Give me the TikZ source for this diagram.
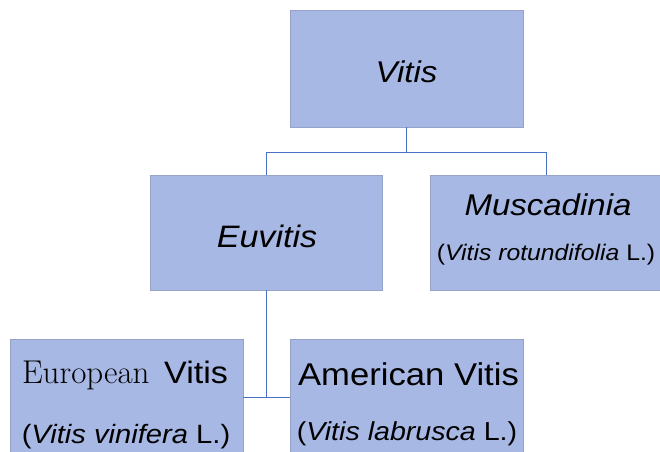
\documentclass[tikz,border=0pt]{standalone}
\usepackage{fontspec}
\setmainfont{Liberation Sans}[FakeStretch=1.1]
\newfontfamily\serifeu{Latin Modern Roman}
\definecolor{boxfill}{RGB}{168,184,228}
\definecolor{boxline}{RGB}{150,162,200}
\definecolor{connline}{RGB}{72,112,196}
\tikzset{
  taxbox/.style={draw=boxline, line width=0.8pt, fill=boxfill, rectangle, minimum width=232pt, minimum height=116pt, inner sep=0pt},
  conn/.style={draw=connline, line width=1pt},
  lbl/.style={anchor=base, inner sep=0pt, text=black}
}
\begin{document}
\begin{tikzpicture}[x=1pt,y=-1pt]
\useasboundingbox (0,0) rectangle (660,451);
\fill[white] (0,0) rectangle (660,451);
% boxes
\node[taxbox, minimum width=233pt, minimum height=117pt] (vitis) at (406.5,68.5) {};
\node[taxbox, minimum height=115pt] (euvitis) at (266,232.5) {};
\node[taxbox, minimum height=115pt] (musc) at (546,232.5) {};
\node[taxbox, minimum width=233pt] (europ) at (126.5,397) {};
\node[taxbox, minimum width=233pt] (amer) at (406.5,397) {};
% connectors
\draw[conn] (vitis.south) -- ++(0,25) coordinate (split);
\draw[conn] (euvitis.north) |- (split) -| (musc.north);
\draw[conn] (euvitis.south) -- (euvitis.south |- europ.east);
\draw[conn] (europ.east) -- (amer.west);
% texts
\node[lbl, font=\fontsize{30}{34}\selectfont\itshape] (tvitis) at (406.5,82) {Vitis};
\node[lbl, font=\fontsize{31}{34}\selectfont\itshape] (teuvitis) at (267,247) {Euvitis};
\node[lbl, font=\fontsize{30}{34}\selectfont\itshape] (tmusc) at (548,215) {Muscadinia};
\node[lbl, font=\fontsize{22.5}{26}\selectfont] (trot) at (546,260) {(\textit{Vitis rotundifolia} L.)};
\node[lbl, font=\fontsize{31}{34}\selectfont] (teur) at (125,383) {{\serifeu\fontsize{33}{36}\selectfont European}\, Vitis};
\node[lbl, font=\fontsize{26.5}{30}\selectfont] (tvin) at (126,443) {(\textit{Vitis vinifera} L.)};
\node[lbl, font=\fontsize{31.5}{34}\selectfont] (tame) at (408.5,385) {American Vitis};
\node[lbl, font=\fontsize{26}{30}\selectfont] (tlab) at (407,440) {(\textit{Vitis labrusca} L.)};
\end{tikzpicture}
\end{document}
